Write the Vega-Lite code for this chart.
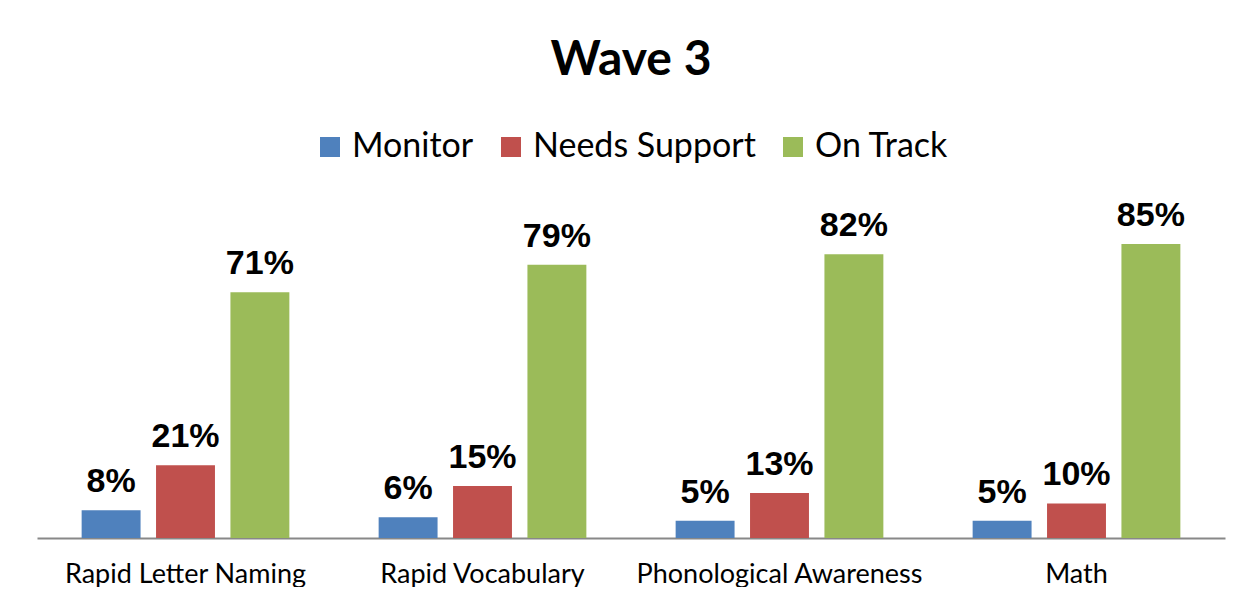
{
  "$schema": "https://vega.github.io/schema/vega-lite/v6.json",
  "width": 1188,
  "height": 346,
  "autosize": {"type": "pad"},
  "padding": {"left": 37, "top": 37, "right": 28, "bottom": 0},
  "background": "white",
  "title": {"text": "Wave 3", "font": "Lato", "fontSize": 48, "fontWeight": "bold", "color": "#000000", "anchor": "middle", "offset": 45},
  "data": {"values": [
    {"measure": "Rapid Letter Naming", "status": "Monitor", "pct": 0.08},
    {"measure": "Rapid Letter Naming", "status": "Needs Support", "pct": 0.21},
    {"measure": "Rapid Letter Naming", "status": "On Track", "pct": 0.71},
    {"measure": "Rapid Vocabulary", "status": "Monitor", "pct": 0.06},
    {"measure": "Rapid Vocabulary", "status": "Needs Support", "pct": 0.15},
    {"measure": "Rapid Vocabulary", "status": "On Track", "pct": 0.79},
    {"measure": "Phonological Awareness", "status": "Monitor", "pct": 0.05},
    {"measure": "Phonological Awareness", "status": "Needs Support", "pct": 0.13},
    {"measure": "Phonological Awareness", "status": "On Track", "pct": 0.82},
    {"measure": "Math", "status": "Monitor", "pct": 0.05},
    {"measure": "Math", "status": "Needs Support", "pct": 0.10},
    {"measure": "Math", "status": "On Track", "pct": 0.85}
  ]},
  "encoding": {
    "x": {
      "field": "measure", "type": "nominal",
      "sort": ["Rapid Letter Naming", "Rapid Vocabulary", "Phonological Awareness", "Math"],
      "scale": {"paddingInner": 0, "paddingOuter": 0},
      "axis": {"title": null, "labelAngle": 0, "ticks": false, "domainColor": "#888888", "domainWidth": 2, "labelFont": "Lato", "labelFontSize": 27, "labelLimit": 0, "labelColor": "#000000", "labelPadding": 23}
    },
    "xOffset": {"field": "status", "type": "nominal", "scale": {"paddingInner": 0.208, "paddingOuter": 0.6}},
    "y": {"field": "pct", "type": "quantitative", "scale": {"domain": [0, 1]}, "axis": null}
  },
  "layer": [
    {
      "mark": {"type": "bar"},
      "encoding": {
        "color": {
          "field": "status", "type": "nominal",
          "scale": {"domain": ["Monitor", "Needs Support", "On Track"], "range": ["#4F81BD", "#C0504D", "#9BBB59"]},
          "legend": {"title": null, "orient": "top", "direction": "horizontal", "symbolType": "square", "symbolSize": 400, "symbolStrokeWidth": 0, "labelFont": "Lato", "labelFontSize": 34, "labelLimit": 0, "labelColor": "#000000", "labelOffset": 5, "columnPadding": 20, "offset": 28}
        }
      }
    },
    {
      "mark": {"type": "text", "font": "Liberation Sans", "fontWeight": "bold", "fontSize": 34, "baseline": "alphabetic", "dy": -18, "color": "#000000"},
      "encoding": {"text": {"field": "pct", "type": "quantitative", "format": ".0%"}}
    }
  ],
  "config": {
    "view": {"stroke": null},
    "legend": {"layout": {"top": {"anchor": "middle"}}}
  }
}
